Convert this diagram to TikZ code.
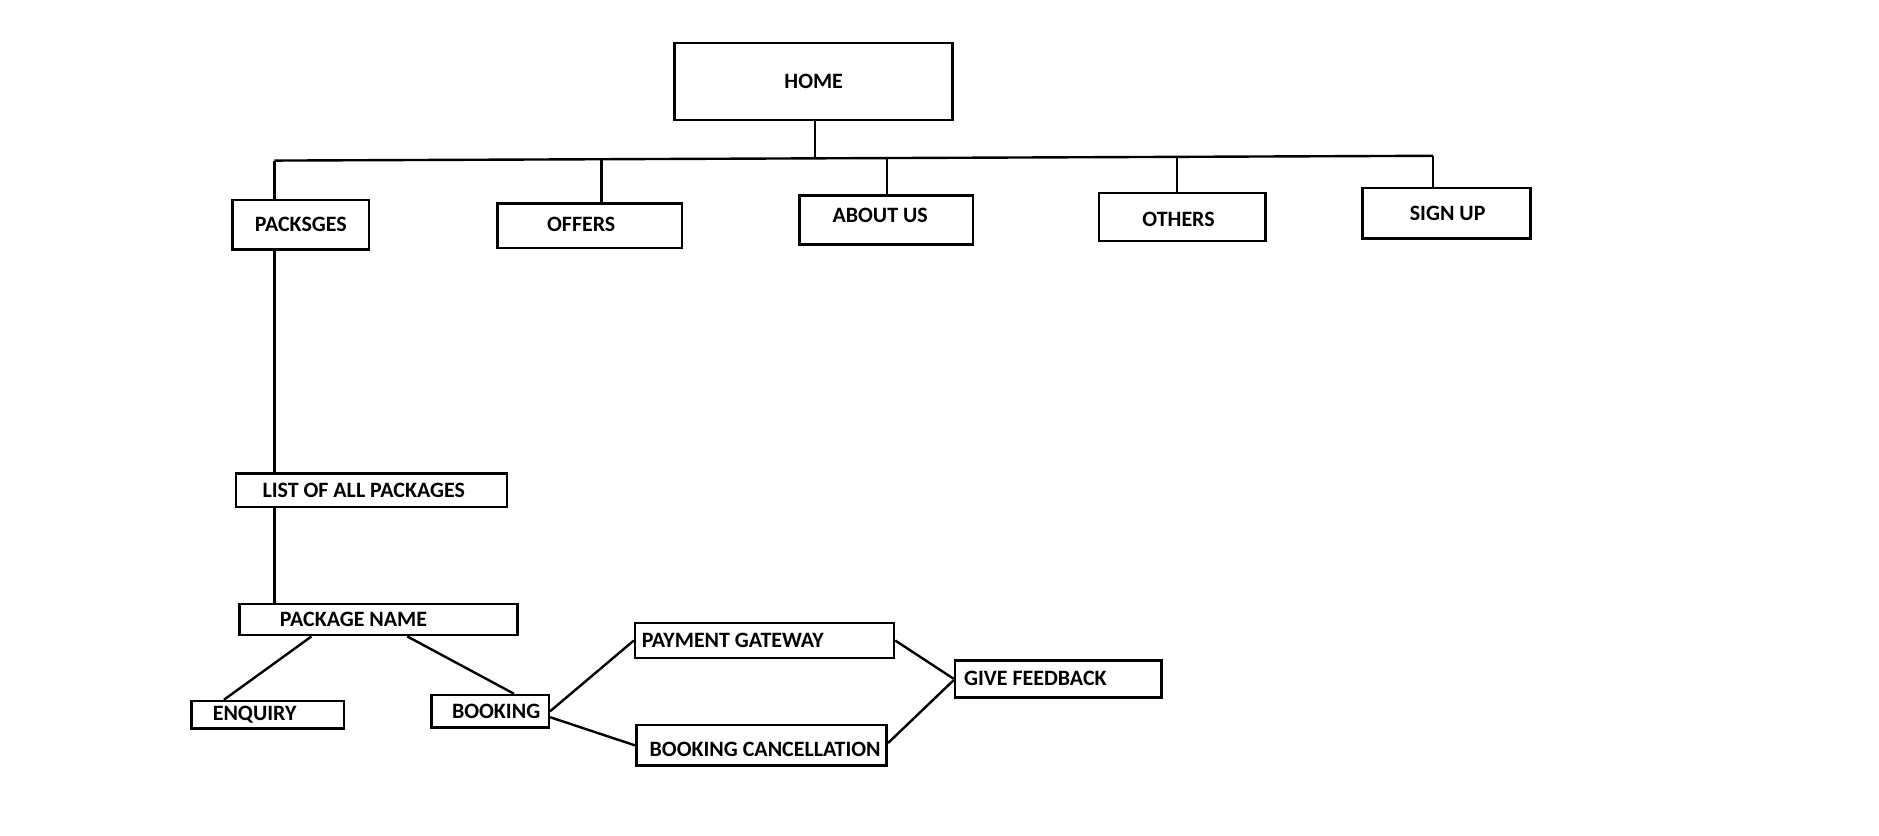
\documentclass[tikz,border=0pt]{standalone}
\usepackage{fontspec}
\setmainfont{Carlito}
\begin{document}
\begin{tikzpicture}[x=1pt,y=1pt,
  box/.style={draw=black,line width=2.2pt,inner sep=0pt,rectangle},
  lbl/.style={font=\fontsize{18.3}{22}\selectfont\bfseries,inner sep=0pt},
  conn/.style={line width=2pt,black}]
\useasboundingbox[fill=white] (0,0) rectangle (1568,-697);
% top level
\node[box,minimum width=232pt,minimum height=64pt,label={[lbl]center:HOME}] (home) at (679,-68) {};
\node[box,minimum width=114pt,minimum height=41pt,label={[lbl]center:PACKSGES}] (pk) at (251,-187.5) {};
\node[box,minimum width=154pt,minimum height=37pt,label={[lbl,xshift=-7pt,yshift=1pt]center:OFFERS}] (of) at (492,-188.5) {};
\node[box,minimum width=145pt,minimum height=41pt,label={[lbl,xshift=-5pt,yshift=3.5pt]center:ABOUT US}] (ab) at (739.5,-183.5) {};
\node[box,minimum width=139pt,minimum height=40pt,label={[lbl,xshift=-3pt,yshift=-2pt]center:OTHERS}] (ot) at (986.5,-181) {};
\node[box,minimum width=140pt,minimum height=42pt,label={[lbl,xshift=1pt]center:SIGN UP}] (su) at (1207,-178) {};
% lower
\node[box,minimum width=226pt,minimum height=28pt,label={[lbl,xshift=-6.5pt]center:LIST OF ALL PACKAGES}] (list) at (310,-409) {};
\node[box,minimum width=232pt,minimum height=26pt,label={[lbl,xshift=-21pt]center:PACKAGE NAME}] (pn) at (316,-517) {};
\node[box,minimum width=127pt,minimum height=23pt,label={[lbl,xshift=-11pt]center:ENQUIRY}] (enq) at (223.5,-596.5) {};
\node[box,minimum width=98pt,minimum height=27pt,label={[lbl,xshift=5pt]center:BOOKING}] (bk) at (409,-593.5) {};
\node[box,minimum width=216pt,minimum height=29pt,label={[lbl,xshift=-26.5pt]center:PAYMENT GATEWAY}] (pg) at (638,-534.5) {};
\node[box,minimum width=209pt,minimum height=34pt,label={[lbl,xshift=3pt,yshift=-3pt]center:BOOKING CANCELLATION}] (bc) at (635.5,-622) {};
\node[box,minimum width=172pt,minimum height=31pt,label={[lbl,xshift=-19pt]center:GIVE FEEDBACK}] (gf) at (883,-566.5) {};
% bus
\coordinate (bL) at (229,-134);
\coordinate (bO) at (502,-133);
\coordinate (bH) at (680,-132);
\coordinate (bA) at (740,-131.5);
\coordinate (bT) at (982,-130.5);
\coordinate (bR) at (1196,-130);
\draw[conn] (bL) -- (bR);
\draw[conn] (home.south -| bH) -- (bH);
\draw[conn] (bL) -- (bL |- pk.north);
\draw[conn] (bO) -- (bO |- of.north);
\draw[conn] (bA) -- (bA |- ab.north);
\draw[conn] (bT) -- (bT |- ot.north);
\draw[conn] (bR) -- (bR |- su.north);
% packages chain
\draw[conn] (pk.south -| bL) -- (bL |- list.north);
\draw[conn] (list.south -| bL) -- (bL |- pn.north);
\draw[conn] ([xshift=61pt]pn.south west) -- ([xshift=28pt]enq.north west);
\draw[conn] ([xshift=141pt]pn.south west) -- ([xshift=70pt]bk.north west);
\draw[conn] (bk.east) -- (pg.west);
\draw[conn] ([yshift=-5pt]bk.east) -- (bc.west);
\draw[conn] (pg.east) -- (gf.west);
\draw[conn] ([yshift=2pt]bc.east) -- ([yshift=-1pt]gf.west);
\end{tikzpicture}
\end{document}
